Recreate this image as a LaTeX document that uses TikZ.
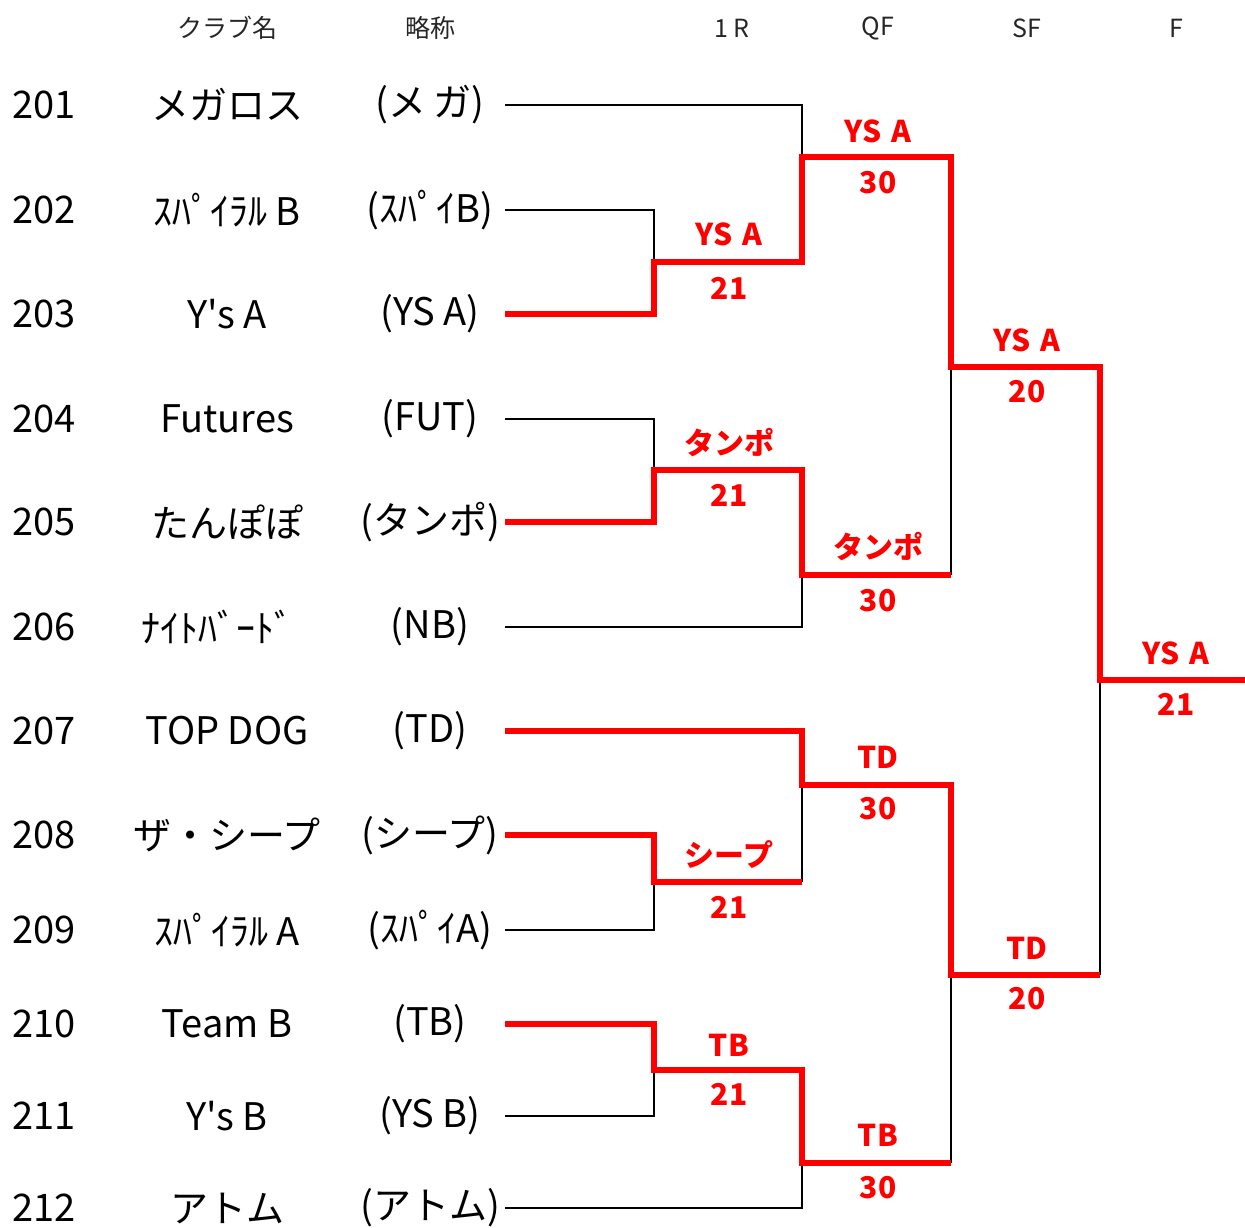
\documentclass[tikz,border=0pt]{standalone}
\usepackage{fontspec}
\setmainfont{Noto Sans CJK JP}[Ligatures=TeXOff]
\newcommand{\ysa}{YS\hspace{0.32em}A}
\begin{document}
\begin{tikzpicture}[x=1pt,y=-1pt,
  hdr/.style={font=\fontsize{25}{25}\selectfont, text=black!85, inner sep=0pt},
  num/.style={font=\fontsize{38}{38}\selectfont, anchor=west, inner sep=0pt},
  club/.style={font=\fontsize{38}{38}\selectfont, inner sep=0pt},
  abbr/.style={font=\fontsize{38}{38}\selectfont, inner sep=0pt},
  res/.style={font=\bfseries\fontsize{30}{30}\selectfont, text=red, inner sep=0pt},
  lost/.style={draw=black, line width=2.6pt},
  won/.style={draw=red, line width=6.3pt, line join=miter}]
\useasboundingbox (0,0) rectangle (1245,1227);
% headers
\node[hdr] (hclub) at (227,28) {クラブ名};
\node[hdr] (habbr) at (430,28) {略称};
\node[hdr] (h1r) at (732,28) {1 R};
\node[hdr] (hqf) at (878,28) {QF};
\node[hdr] (hsf) at (1027,28) {SF};
\node[hdr] (hf) at (1176,28) {F};
% rows
\foreach \i/\y/\c/\a [count=\k] in {
  201/105/メガロス/(メ\,ガ),
  202/210/ｽﾊﾟｲﾗﾙ B/(ｽﾊﾟｲB),
  203/314/Y's A/(YS A),
  204/419/Futures/(FUT),
  205/522/たんぽぽ/(タンポ),
  207/731/TOP DOG/(TD),
  208/835/ザ・シープ/(シープ),
  209/930/ｽﾊﾟｲﾗﾙ A/(ｽﾊﾟｲA),
  210/1024/Team B/(TB),
  211/1116/Y's B/(YS B),
  212/1208/アトム/(アトム)}{
  \node[num] (n\i) at (12,\y) {\i};
  \node[club] (c\i) at (227,\y) {\c};
  \node[abbr] (a\i) at (430,\y) {\a};
}
\node[num] (n206) at (12,627) {206};
\node[club] (c206) at (217,627) {ﾅｲﾄﾊﾞｰﾄﾞ};
\node[abbr] (a206) at (430,627) {(NB)};
% line ends
\coordinate (t1) at (505,105);
\coordinate (t2) at (505,210);
\coordinate (t3) at (505,314);
\coordinate (t4) at (505,419);
\coordinate (t5) at (505,522);
\coordinate (t6) at (505,627);
\coordinate (t7) at (505,731);
\coordinate (t8) at (505,835);
\coordinate (t9) at (505,930);
\coordinate (t10) at (505,1024);
\coordinate (t11) at (505,1116);
\coordinate (t12) at (505,1208);
% match points
\coordinate (m1) at (654,262);
\coordinate (m2) at (654,470);
\coordinate (m3) at (654,882);
\coordinate (m4) at (654,1070);
\coordinate (m3r) at (802,882);
\coordinate (q1) at (802,157);
\coordinate (q2) at (802,575);
\coordinate (q3) at (802,785);
\coordinate (q4) at (802,1163);
\coordinate (q2r) at (951,575);
\coordinate (q4r) at (951,1163);
\coordinate (s1) at (951,367);
\coordinate (s2) at (951,975);
\coordinate (s2r) at (1100,975);
\coordinate (fm) at (1100,680);
\coordinate (fe) at (1245,680);
% losing lines
\draw[lost] (t1) -| (q1);
\draw[lost] (t2) -| (m1);
\draw[lost] (t4) -| (m2);
\draw[lost] (t6) -| (q2);
\draw[lost] (t9) -| (m3);
\draw[lost] (t11) -| (m4);
\draw[lost] (t12) -| (q4);
\draw[lost] (m3r) -- (q3);
\draw[lost] (q2r) -- (s1);
\draw[lost] (q4r) -- (s2);
\draw[lost] (s2r) -- (fm);
% winning lines
\draw[won] (t3) -| (m1) -| (q1) -| (s1) -| (fm) -- (fe);
\draw[won] (t5) -| (m2) -| (q2) -- (q2r);
\draw[won] (t7) -| (q3) -| (s2) -- (s2r);
\draw[won] (t8) -| (m3) -- (m3r);
\draw[won] (t10) -| (m4) -| (q4) -- (q4r);
% results
\node[res] (w1n) at (729,234) {\ysa};   \node[res] (w1s) at (729,288) {21};
\node[res] (w2n) at (729,443) {タンポ}; \node[res] (w2s) at (729,495) {21};
\node[res] (w3n) at (729,855) {シープ}; \node[res] (w3s) at (729,907) {21};
\node[res] (w4n) at (729,1045) {TB};    \node[res] (w4s) at (729,1094) {21};
\node[res] (x1n) at (878,131) {\ysa};   \node[res] (x1s) at (878,183) {30};
\node[res] (x2n) at (878,547) {タンポ}; \node[res] (x2s) at (878,601) {30};
\node[res] (x3n) at (878,757) {TD};     \node[res] (x3s) at (878,809) {30};
\node[res] (x4n) at (878,1135) {TB};    \node[res] (x4s) at (878,1188) {30};
\node[res] (y1n) at (1027,340) {\ysa};  \node[res] (y1s) at (1027,392) {20};
\node[res] (y2n) at (1027,948) {TD};    \node[res] (y2s) at (1027,999) {20};
\node[res] (zn) at (1176,653) {\ysa};   \node[res] (zs) at (1176,704) {21};
\end{tikzpicture}
\end{document}
